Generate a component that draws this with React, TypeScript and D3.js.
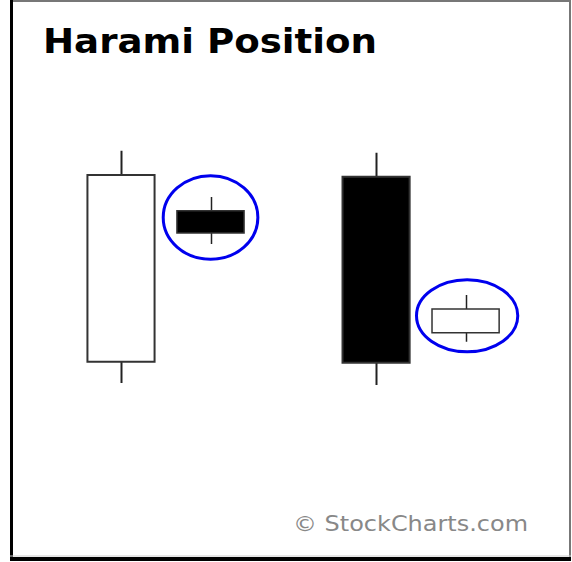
import React, { useEffect, useRef } from "react";
import * as d3 from "d3";

// Harami position – two candlestick pairs

const sessions = [0, 1, 2.85, 3.85];
const opens = [11.3, 71.7, 85.3, 22.9];
const closes = [86, 62.8, 10.9, 32.4];
const highs = [95.7, 77.2, 94.9, 38];
const lows = [2.8, 58.4, 2, 19.3];

// highlight rings around the inside day (session range, price range)
const ringFrom = [0.455, 3.285];
const ringTo = [1.546, 4.45];
const ringLow = [51.7, 14.7];
const ringHigh = [86.3, 44.7];

const title = "Harami Position";
const credit = "\u00A9 StockCharts.com";

const W = 572,
  H = 562;

export default function App() {
  const ref = useRef<SVGSVGElement>(null);

  useEffect(() => {
    const svg = d3.select(ref.current);
    svg.selectAll("*").remove();

    const x = d3.scaleLinear().domain([0, 1]).range([121, 210.5]);
    const y = d3.scaleLinear().domain([0, 100]).range([390, 140]);
    const bodyW = x(0.75) - x(0);

    svg.append("rect").attr("width", W).attr("height", H).attr("fill", "#fff");

    // frame
    svg.append("line").attr("x1", 10).attr("x2", 571).attr("y1", 1).attr("y2", 1)
      .attr("stroke", "#777").attr("stroke-width", 2);
    svg.append("line").attr("x1", 570).attr("x2", 570).attr("y1", 0).attr("y2", 560)
      .attr("stroke", "#777").attr("stroke-width", 2);
    svg.append("line").attr("x1", 11.5).attr("x2", 11.5).attr("y1", 0).attr("y2", 561)
      .attr("stroke", "#000").attr("stroke-width", 3);
    svg.append("line").attr("x1", 10).attr("x2", 571).attr("y1", 556).attr("y2", 556)
      .attr("stroke", "#ccc").attr("stroke-width", 1);
    svg.append("line").attr("x1", 10).attr("x2", 571).attr("y1", 559).attr("y2", 559)
      .attr("stroke", "#000").attr("stroke-width", 4);

    // title
    svg.append("text")
      .attr("x", 43)
      .attr("y", 53)
      .attr("font-family", "DejaVu Sans, Verdana, sans-serif")
      .attr("font-weight", "bold")
      .attr("font-size", 33)
      .attr("textLength", 334)
      .attr("lengthAdjust", "spacingAndGlyphs")
      .text(title);

    const data = sessions.map((s, i) => ({
      s,
      open: opens[i],
      close: closes[i],
      high: highs[i],
      low: lows[i],
      small: Math.abs(opens[i] - closes[i]) < 20,
    }));

    const g = svg.append("g");

    // wicks
    g.selectAll(".wick")
      .data(data)
      .join("line")
      .attr("class", "wick")
      .attr("x1", (d) => Math.round(x(d.s)) + 0.5)
      .attr("x2", (d) => Math.round(x(d.s)) + 0.5)
      .attr("y1", (d) => y(d.high))
      .attr("y2", (d) => y(d.low))
      .attr("stroke", "#222")
      .attr("stroke-width", (d) => (d.small ? 1.5 : 2));

    // bodies
    g.selectAll(".body")
      .data(data)
      .join("rect")
      .attr("class", "body")
      .attr("x", (d) => x(d.s) - bodyW / 2)
      .attr("y", (d) => y(Math.max(d.open, d.close)))
      .attr("width", bodyW)
      .attr("height", (d) => Math.abs(y(d.open) - y(d.close)))
      .attr("fill", (d) => (d.close > d.open ? "#fff" : "#000"))
      .attr("stroke", "#333")
      .attr("stroke-width", (d) => (d.small ? 1.5 : 2));

    // highlight rings
    g.selectAll(".ring")
      .data(ringFrom.map((f, i) => ({ f, t: ringTo[i], lo: ringLow[i], hi: ringHigh[i] })))
      .join("ellipse")
      .attr("class", "ring")
      .attr("cx", (d) => (x(d.f) + x(d.t)) / 2)
      .attr("cy", (d) => (y(d.lo) + y(d.hi)) / 2)
      .attr("rx", (d) => (x(d.t) - x(d.f)) / 2 - 1.5)
      .attr("ry", (d) => (y(d.lo) - y(d.hi)) / 2 - 1.5)
      .attr("fill", "none")
      .attr("stroke", "#0000ee")
      .attr("stroke-width", 3);

    // credit
    svg.append("text")
      .attr("x", 293)
      .attr("y", 531)
      .attr("font-family", "DejaVu Sans, Verdana, sans-serif")
      .attr("font-size", 21)
      .attr("fill", "#888")
      .attr("textLength", 235)
      .attr("lengthAdjust", "spacingAndGlyphs")
      .text(credit);
  }, []);

  return (
    <svg
      ref={ref}
      width={W}
      height={H}
      style={{ position: "absolute", left: 0, top: 0, display: "block" }}
    />
  );
}
